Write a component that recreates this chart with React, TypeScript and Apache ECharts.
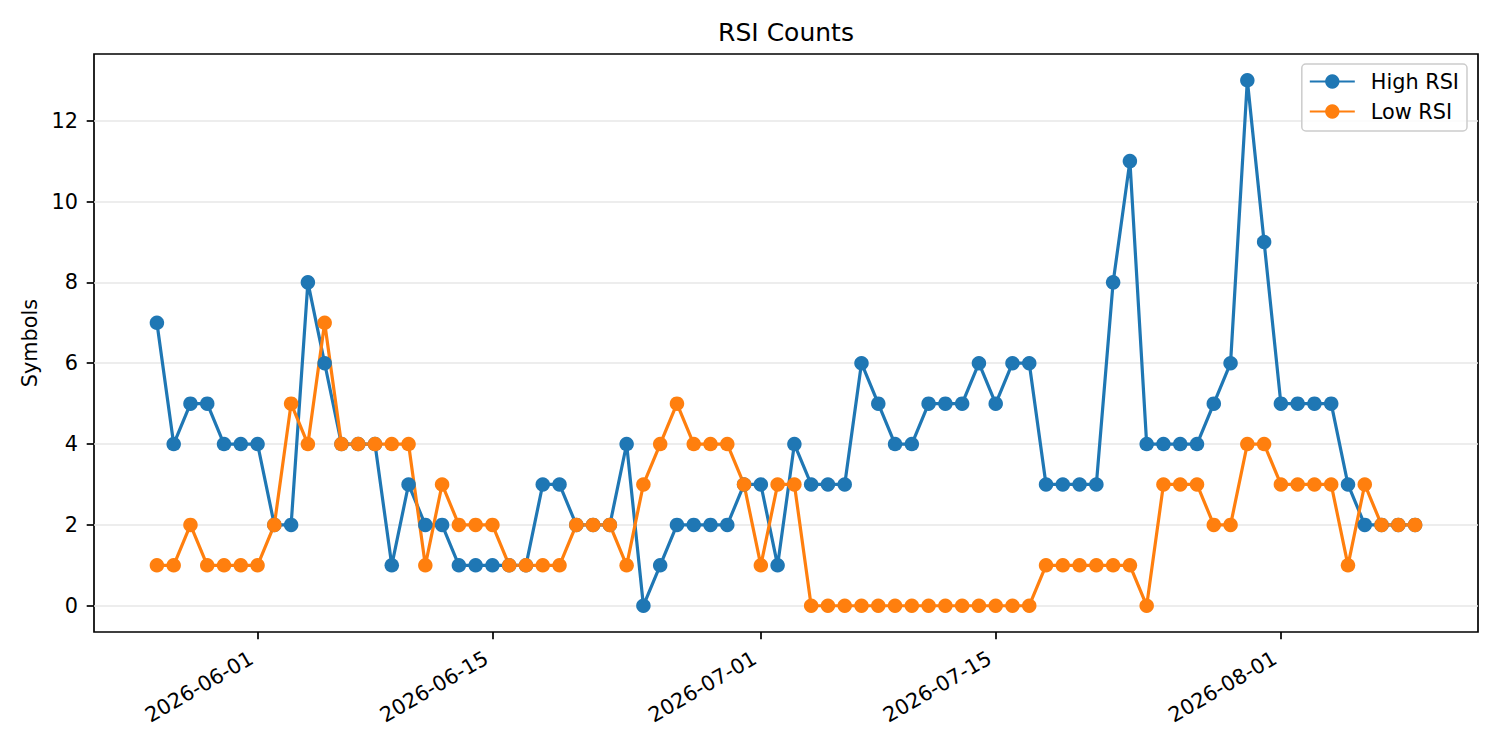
import React, { useEffect, useRef } from 'react';
import * as echarts from 'echarts';

// daily counts starting 2026-05-26
const startDate = '2026-05-26';
const highRsi = [
  7, 4, 5, 5, 4, 4, 4, 2, 2, 8,
  6, 4, 4, 4, 1, 3, 2, 2, 1, 1,
  1, 1, 1, 3, 3, 2, 2, 2, 4, 0,
  1, 2, 2, 2, 2, 3, 3, 1, 4, 3,
  3, 3, 6, 5, 4, 4, 5, 5, 5, 6,
  5, 6, 6, 3, 3, 3, 3, 8, 11, 4,
  4, 4, 4, 5, 6, 13, 9, 5, 5, 5,
  5, 3, 2, 2, 2, 2
];
const lowRsi = [
  1, 1, 2, 1, 1, 1, 1, 2, 5, 4,
  7, 4, 4, 4, 4, 4, 1, 3, 2, 2,
  2, 1, 1, 1, 1, 2, 2, 2, 1, 3,
  4, 5, 4, 4, 4, 3, 1, 3, 3, 0,
  0, 0, 0, 0, 0, 0, 0, 0, 0, 0,
  0, 0, 0, 1, 1, 1, 1, 1, 1, 0,
  3, 3, 3, 2, 2, 4, 4, 3, 3, 3,
  3, 1, 3, 2, 2, 2
];
const xTickLabels = ['2026-06-01', '2026-06-15', '2026-07-01', '2026-07-15', '2026-08-01'];
const yTickValues = [0, 2, 4, 6, 8, 10, 12];

const DAY = 86400000;
const FONT = 'DejaVu Sans';

const App: React.FC = () => {
  const chartRef = useRef<HTMLDivElement>(null);

  useEffect(() => {
    if (!chartRef.current) return;
    document.body.style.margin = '0';

    const chart = echarts.init(chartRef.current, null, { renderer: 'svg' });

    const t0 = Date.parse(startDate);
    const dates = highRsi.map((_, i) => t0 + i * DAY);
    const tLast = dates[dates.length - 1];
    const xTicks = xTickLabels.map((d) => Date.parse(d));

    const option: echarts.EChartsOption = {
      animation: false,
      backgroundColor: '#ffffff',
      textStyle: { fontFamily: FONT },
      title: {
        text: 'RSI Counts',
        left: 786,
        top: 20,
        padding: 0,
        textAlign: 'center',
        textStyle: { fontFamily: FONT, fontSize: 25, fontWeight: 'normal', color: '#000' }
      },
      legend: {
        orient: 'vertical',
        right: 33,
        top: 64,
        padding: [7, 8, 9, 7],
        itemWidth: 45,
        itemHeight: 18,
        itemGap: 9,
        backgroundColor: 'rgba(255,255,255,0.8)',
        borderColor: '#cccccc',
        borderWidth: 1.5,
        borderRadius: 4,
        textStyle: { fontFamily: FONT, fontSize: 20.8, color: '#000', padding: [0, 0, 0, 11] },
        data: ['High RSI', 'Low RSI']
      },
      grid: {
        left: 94,
        right: 22,
        top: 54,
        bottom: 118,
        show: true,
        borderColor: '#000',
        borderWidth: 1.7,
        backgroundColor: 'transparent',
        containLabel: false,
        outerBoundsMode: 'none'
      } as any,
      xAxis: {
        type: 'value',
        min: t0 - 3.75 * DAY,
        max: tLast + 3.75 * DAY,
        axisLine: { show: false, onZero: false },
        axisTick: {
          show: true,
          length: 7.3,
          lineStyle: { color: '#000', width: 1.7 },
          customValues: xTicks
        },
        axisLabel: {
          customValues: xTicks,
          rotate: 30,
          margin: 21,
          padding: [0, 7, 0, 0],
          fontFamily: FONT,
          fontSize: 20.8,
          color: '#000',
          formatter: (v: number) => new Date(v).toISOString().slice(0, 10)
        },
        splitLine: { show: false }
      } as any,
      yAxis: {
        type: 'value',
        min: -0.65,
        max: 13.65,
        name: 'Symbols',
        nameLocation: 'middle',
        nameGap: 48,
        nameTextStyle: { fontFamily: FONT, fontSize: 20.8, color: '#000' },
        axisLine: { show: false, onZero: false },
        axisTick: {
          show: true,
          length: 7.3,
          lineStyle: { color: '#000', width: 1.7 },
          customValues: yTickValues
        },
        axisLabel: {
          customValues: yTickValues,
          margin: 16,
          fontFamily: FONT,
          fontSize: 20.8,
          color: '#000',
          formatter: (v: number) => String(v)
        },
        splitLine: { show: true, lineStyle: { color: '#e7e7e7', width: 1.7 } }
      } as any,
      series: [
        {
          name: 'High RSI',
          type: 'line',
          data: dates.map((d, i) => [d, highRsi[i]]),
          symbol: 'circle',
          symbolSize: 14.5,
          showAllSymbol: true,
          color: '#1f77b4',
          lineStyle: { width: 3.2, color: '#1f77b4' },
          itemStyle: { color: '#1f77b4' },
          emphasis: { disabled: true }
        },
        {
          name: 'Low RSI',
          type: 'line',
          data: dates.map((d, i) => [d, lowRsi[i]]),
          symbol: 'circle',
          symbolSize: 14.5,
          showAllSymbol: true,
          color: '#ff7f0e',
          lineStyle: { width: 3.2, color: '#ff7f0e' },
          itemStyle: { color: '#ff7f0e' },
          emphasis: { disabled: true }
        }
      ]
    };

    chart.setOption(option);

    return () => {
      chart.dispose();
    };
  }, []);

  return (
    <div
      ref={chartRef}
      style={{ position: 'absolute', left: 0, top: 0, width: 1500, height: 750 }}
    />
  );
};

export default App;
